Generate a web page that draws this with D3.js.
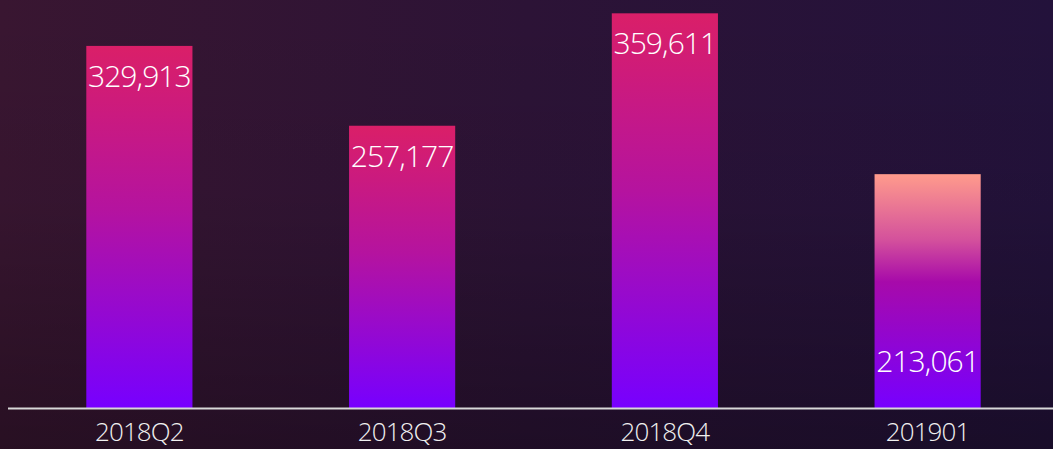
<!DOCTYPE html>
<html>
<head>
<meta charset="utf-8">
<script src="https://cdn.jsdelivr.net/npm/d3@7"></script>
<style>
  html, body { margin: 0; padding: 0; background: #25112b; }
  svg { display: block; }
</style>
</head>
<body>
<div id="chart"></div>
<script>
(function (d3) {
    "use strict";

    /***** Données *****/
    const quarters = ["2018Q2", "2018Q3", "2018Q4", "201901"];
    const values = [329913, 257177, 359611, 213061];
    const labelInside = ["top", "top", "top", "bottom"];

    /***** Configuration *****/
    const width = 1053;
    const height = 449;
    const baseline = 408;

    var svg = d3.select("#chart")
        .append("svg")
        .attr("width", width)
        .attr("height", height);

    var defs = svg.append("defs");

    // fond
    var bgH = defs.append("linearGradient").attr("id", "bgH")
        .attr("x1", 0).attr("y1", 0).attr("x2", 1).attr("y2", 0);
    bgH.append("stop").attr("offset", "0%").attr("stop-color", "#391631");
    bgH.append("stop").attr("offset", "50%").attr("stop-color", "#2c1336");
    bgH.append("stop").attr("offset", "100%").attr("stop-color", "#23123b");

    var bgV = defs.append("linearGradient").attr("id", "bgV")
        .attr("x1", 0).attr("y1", 0).attr("x2", 0).attr("y2", 1);
    bgV.append("stop").attr("offset", "0%").attr("stop-color", "#000").attr("stop-opacity", 0);
    bgV.append("stop").attr("offset", "45%").attr("stop-color", "#000").attr("stop-opacity", 0.05);
    bgV.append("stop").attr("offset", "100%").attr("stop-color", "#000").attr("stop-opacity", 0.3);

    svg.append("rect").attr("width", width).attr("height", height).attr("fill", "url(#bgH)");
    svg.append("rect").attr("width", width).attr("height", height).attr("fill", "url(#bgV)");

    // dégradés des barres
    var gBar = defs.append("linearGradient").attr("id", "barGrad")
        .attr("x1", 0).attr("y1", 0).attr("x2", 0).attr("y2", 1);
    gBar.append("stop").attr("offset", "0%").attr("stop-color", "#da1f68");
    gBar.append("stop").attr("offset", "45%").attr("stop-color", "#b5139f");
    gBar.append("stop").attr("offset", "100%").attr("stop-color", "#7700ff");

    var gLast = defs.append("linearGradient").attr("id", "barGradLast")
        .attr("x1", 0).attr("y1", 0).attr("x2", 0).attr("y2", 1);
    gLast.append("stop").attr("offset", "0%").attr("stop-color", "#ff9b8c");
    gLast.append("stop").attr("offset", "28%").attr("stop-color", "#d4519c");
    gLast.append("stop").attr("offset", "46%").attr("stop-color", "#a70aaa");
    gLast.append("stop").attr("offset", "100%").attr("stop-color", "#7700ff");

    /***** Échelles *****/
    var x = d3.scaleBand()
        .domain(quarters)
        .range([8, 1059])
        .paddingInner(0.596)
        .paddingOuter(0.298);

    var y = d3.scaleLinear()
        .domain([0, 371750])
        .range([baseline, 0]);

    var data = quarters.map((q, i) => ({ q: q, v: values[i], pos: labelInside[i], last: i === quarters.length - 1 }));

    /***** Barres *****/
    svg.selectAll(".bar")
        .data(data)
        .enter().append("rect")
        .attr("class", "bar")
        .attr("x", d => x(d.q))
        .attr("y", d => y(d.v))
        .attr("width", x.bandwidth())
        .attr("height", d => baseline - y(d.v))
        .attr("fill", d => d.last ? "url(#barGradLast)" : "url(#barGrad)");

    svg.selectAll(".val")
        .data(data)
        .enter().append("text")
        .attr("class", "val")
        .attr("x", d => x(d.q) + x.bandwidth() / 2)
        .attr("y", d => d.pos === "top" ? y(d.v) + 41 : baseline - 36)
        .attr("text-anchor", "middle")
        .attr("fill", "#ffffff")
        .style("font-family", "'Open Sans', Lato, sans-serif")
        .style("font-weight", 300)
        .style("font-size", "30px")
        .style("letter-spacing", "-0.9px")
        .text(d => d3.format(",")(d.v));

    /***** Axe *****/
    var axis = svg.append("g")
        .attr("transform", "translate(0," + baseline + ")")
        .call(d3.axisBottom(x).tickSize(0).tickPadding(0));

    axis.select(".domain")
        .attr("d", "M8,0.5H" + width)
        .attr("stroke", "#d8d8d8")
        .attr("stroke-width", 2);

    axis.selectAll("text")
        .attr("fill", "#f0f0f0")
        .attr("y", 33)
        .attr("dy", 0)
        .style("font-family", "'Open Sans', Lato, sans-serif")
        .style("font-weight", 300)
        .style("font-size", "26px")
        .style("letter-spacing", "-0.9px");

})(d3);
</script>
</body>
</html>
